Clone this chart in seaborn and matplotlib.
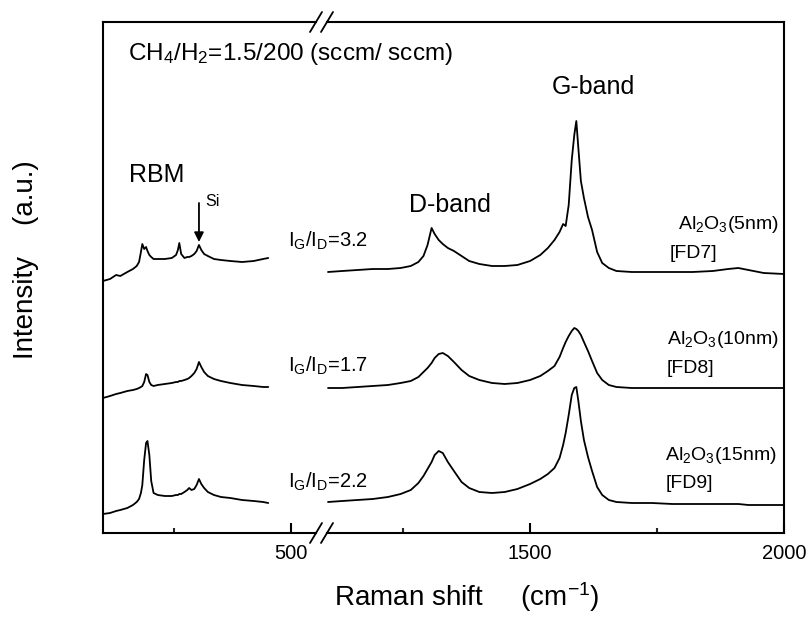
import matplotlib
matplotlib.use("Agg")
import matplotlib.pyplot as plt
from matplotlib.lines import Line2D
import pandas as pd
import seaborn as sns

# ---- Raman spectra (intensity in a.u., traces stacked with offsets) ----
# Low-frequency window: RBM region with the Si 2TA line
low_shift = [98, 113, 126, 135, 150, 162, 170, 175, 179, 182, 186, 190, 193, 197,
             201, 206, 215, 230, 245, 254, 258, 261, 265, 272, 278, 282, 287, 293,
             298, 303, 308, 314, 322, 335, 350, 370, 395, 420, 440, 451]
fd7_low = [252, 254, 258, 257, 261, 264, 267, 271, 281, 289, 284, 286, 282, 278,
           276, 274, 274, 274, 275, 278, 283, 290, 279, 275, 276, 276, 277, 279,
           282, 288, 283, 279, 277, 274, 273, 272, 271, 272, 274, 275]
fd8_low = [135, 137, 139, 140, 142, 143, 144, 145, 146, 147, 151, 159, 158, 151,
           148, 147, 148, 149, 150, 151, 151, 152, 152, 153, 154, 155, 157, 160,
           164, 171, 166, 161, 157, 154, 152, 150, 148, 147, 146, 146]
fd9_low = [19, 20, 22, 23, 25, 28, 31, 34, 40, 48, 73, 90, 92, 78,
           52, 40, 38, 37, 37, 38, 38, 39, 39, 41, 43, 45, 43, 44,
           48, 54, 49, 45, 41, 38, 36, 35, 33, 32, 31, 30]

# High-frequency window: D and G bands
high_shift = [1102, 1130, 1160, 1190, 1220, 1245, 1265, 1280, 1290, 1298, 1306, 1312,
              1320, 1328, 1338, 1350, 1365, 1380, 1400, 1425, 1450, 1475, 1500, 1520,
              1535, 1548, 1558, 1565, 1570, 1576, 1582, 1587, 1591, 1595, 1600, 1606,
              1614, 1622, 1632, 1642, 1655, 1670, 1700, 1740, 1780, 1820, 1860, 1890,
              1910, 1930, 1960, 2000]
fd7_high = [261, 262, 263, 264, 264, 265, 267, 271, 277, 288, 305, 299,
            293, 289, 285, 282, 277, 272, 269, 267, 267, 268, 272, 278,
            285, 293, 301, 309, 307, 328, 373, 398, 412, 385, 352, 335,
            316, 303, 281, 270, 265, 262, 261, 261, 261, 261, 262, 264,
            265, 263, 260, 259]
fd8_high = [145, 145, 146, 147, 148, 150, 152, 156, 161, 165, 170, 175,
            179, 180, 177, 171, 163, 157, 153, 150, 149, 150, 153, 157,
            162, 167, 176, 185, 191, 197, 202, 205, 204, 202, 198, 191,
            182, 172, 160, 153, 148, 146, 145, 145, 145, 145, 145, 145,
            145, 145, 145, 145]
fd9_high = [31, 32, 33, 34, 36, 39, 43, 50, 57, 64, 71, 78,
            82, 80, 71, 62, 51, 45, 41, 40, 41, 44, 49, 54,
            59, 65, 75, 88, 100, 118, 138, 145, 146, 132, 112, 93,
            76, 62, 46, 38, 33, 31, 30, 30, 29, 29, 29, 29,
            29, 28, 28, 28]

samples = ["FD7", "FD8", "FD9"]
film_thickness = ["5nm", "10nm", "15nm"]
ig_id_ratio = ["3.2", "1.7", "2.2"]

low_major, low_minor = [500], [250]
high_major, high_minor = [1500, 2000], [1250, 1750]
si_peak = 303

low_df = pd.concat([pd.DataFrame({"shift": low_shift, "intensity": v, "sample": s})
                    for s, v in zip(samples, [fd7_low, fd8_low, fd9_low])])
high_df = pd.concat([pd.DataFrame({"shift": high_shift, "intensity": v, "sample": s})
                     for s, v in zip(samples, [fd7_high, fd8_high, fd9_high])])

# ---- styling ----
sns.set_theme(style="white")
plt.rcParams["font.family"] = ["Liberation Sans", "DejaVu Sans"]
plt.rcParams["mathtext.fontset"] = "custom"
plt.rcParams["mathtext.rm"] = "Liberation Sans"
plt.rcParams["mathtext.default"] = "regular"

W, H = 810, 621
fig = plt.figure(figsize=(W / 100, H / 100), dpi=100)
fig.patch.set_facecolor("white")

TOP, BOTTOM = 22, 533


def panel(x0, x1):
    return fig.add_axes([x0 / W, 1 - BOTTOM / H, (x1 - x0) / W, (BOTTOM - TOP) / H])


ax_low = panel(103, 316)
ax_high = panel(327, 784)

for ax, df in [(ax_low, low_df), (ax_high, high_df)]:
    sns.lineplot(data=df, x="shift", y="intensity", units="sample", estimator=None,
                 color="black", lw=1.3, ax=ax, legend=False)
    ax.set_ylim(0, BOTTOM - TOP)
    ax.set_yticks([])
    ax.set_xlabel("")
    ax.set_ylabel("")
    ax.set_facecolor("white")
    for sp in ax.spines.values():
        sp.set_linewidth(1.5)
        sp.set_color("black")
    ax.tick_params(axis="x", which="major", direction="in", length=7, width=1.5,
                   labelsize=14.5, pad=8, colors="black", bottom=True, top=False)
    ax.tick_params(axis="x", which="minor", direction="in", length=3.5, width=1.5,
                   bottom=True, top=False)

ax_low.set_xlim(98, 553)
ax_low.set_xticks(low_major)
ax_low.set_xticks(low_minor, minor=True)
ax_low.spines["right"].set_visible(False)

ax_high.set_xlim(1100, 2000)
ax_high.set_xticks(high_major)
ax_high.set_xticks(high_minor, minor=True)
ax_high.spines["left"].set_visible(False)


def px(x, y):
    return x / W, 1 - y / H


def put(x, y, s, **kw):
    fig.text(*px(x, y), s, color="black", **kw)


# axis break marks
for cx in (316, 327):
    for cy in (TOP, BOTTOM):
        (xa, ya), (xb, yb) = px(cx - 6, cy + 10), px(cx + 6, cy - 10)
        fig.add_artist(Line2D([xa, xb], [ya, yb], transform=fig.transFigure,
                              color="black", lw=1.3))

# annotations
put(128, 60, r"CH$_4$/H$_2$=1.5/200 (sccm/ sccm)", ha="left", va="baseline", size=17.5)
put(157, 175, "RBM", ha="center", va="center", size=18)
put(205, 202, "Si", ha="left", va="center", size=11.5)
ax_low.annotate("", xy=(si_peak, BOTTOM - 242), xytext=(si_peak, BOTTOM - 203),
                arrowprops=dict(arrowstyle="-|>", color="black", lw=1.3,
                                mutation_scale=14, shrinkA=0, shrinkB=0))
put(450, 205, "D-band", ha="center", va="center", size=18)
put(593, 87, "G-band", ha="center", va="center", size=18)

ratio_y = [247, 372, 488]
film_y = [229, 344, 460]
film_x = [678, 667, 665]
tag_y = [258, 373, 488]
tag_x = [670, 667, 666]
for r, f, s, ry, fy, fx, ty, tx in zip(ig_id_ratio, film_thickness, samples,
                                        ratio_y, film_y, film_x, tag_y, tag_x):
    put(288, ry, r"I$_{G}$/I$_{D}$=" + r, ha="left", va="baseline", size=14.5)
    put(fx, fy, r"Al$_2$O$_3$(" + f + ")", ha="left", va="baseline", size=14)
    put(tx, ty, "[" + s + "]", ha="left", va="baseline", size=14)

put(26, 260, "Intensity    (a.u.)", rotation=90, ha="center", va="center", size=20)
put(467, 597, r"Raman shift     (cm$^{-1}$)", ha="center", va="center", size=20)

fig.savefig("out.png", dpi=100, facecolor="white")
